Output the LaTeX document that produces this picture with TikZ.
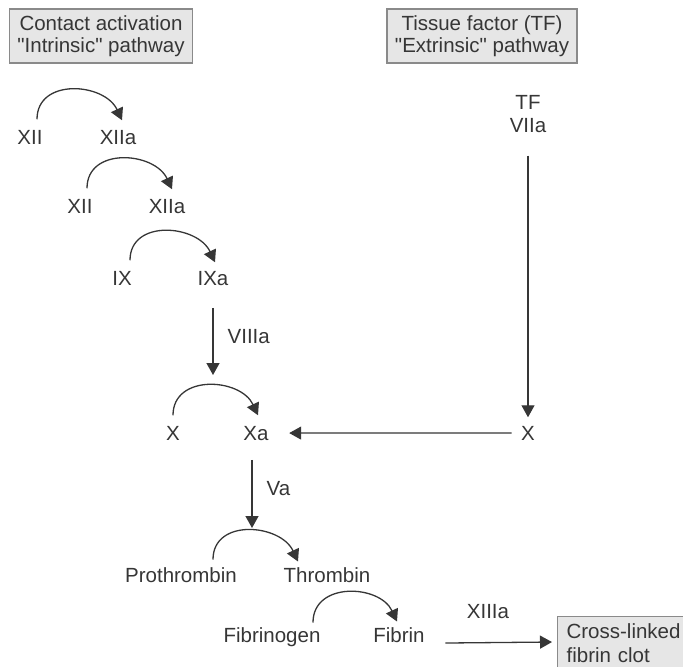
\documentclass[tikz,border=0pt]{standalone}
\usepackage{fontspec}
\setmainfont{Liberation Sans}[Ligatures=TeXOff]
\usetikzlibrary{arrows.meta, positioning}

\definecolor{ink}{HTML}{363636}
\definecolor{boxfill}{HTML}{E6E6E6}
\definecolor{boxline}{HTML}{8A8A8A}

\begin{document}
\begin{tikzpicture}[x=0.5pt, y=0.5pt, >={Triangle[length=6pt,width=6.5pt]},
                line width=0.65pt, color=ink,
                main node/.style={anchor=base, inner sep=0pt, font=\fontsize{10.25}{11}\selectfont},
                label node/.style={inner sep=0pt, font=\fontsize{10.25}{11}\selectfont},
                box node/.style={draw=boxline, fill=boxfill, line width=0.6pt, align=center,
                  inner xsep=4pt, inner ysep=3.2pt, font=\fontsize{10.25}{11}\selectfont},
                activate/.style={->, out=90, in=115, looseness=1.25}]

  \useasboundingbox (0,0) rectangle (683,-666);

  % the two pathways
  \node[box node] (intr) at (101,-36) {Contact activation\\"Intrinsic" pathway};
  \node[box node] (extr) at (482,-36) {Tissue factor (TF)\\"Extrinsic" pathway};

  \node[main node] (xii1) at (30,-144) {XII};
  \node[main node] (xiia1) at (118,-144) {XIIa};
  \node[main node] (xii2) at (80,-213) {XII};
  \node[main node] (xiia2) at (167,-213) {XIIa};
  \node[main node] (ix) at (122,-285) {IX};
  \node[main node] (ixa) at (213,-285) {IXa};
  \node[main node] (x) at (173,-440) {X};
  \node[main node] (xa) at (256,-440) {Xa};

  \node[main node, anchor=north, align=center, font=\fontsize{10.25}{11.5}\selectfont]
    (tf) at (528,-95) {TF\\VIIa};
  \node[main node] (xtf) at (528,-440) {X};

  % common pathway
  \node[main node] (pro) at (181,-582) {Prothrombin};
  \node[main node] (thr) at (327,-582) {Thrombin};
  \node[main node] (fbg) at (272,-642) {Fibrinogen};
  \node[main node] (fbn) at (399,-642) {Fibrin};
  \node[box node, anchor=north west, align=left, text width=70pt, inner xsep=4.5pt,
        inner ysep=3.5pt, font=\fontsize{10.25}{12}\selectfont]
    (clot) at (557,-616) {Cross-linked\\fibrin clot};

  \coordinate (xarc) at (213,-375);
  \coordinate (proarc) at (252,-528);
  \coordinate (clotin) at ([shift={(-5,0)}]clot.west);

  % activations
  \draw[activate] ([shift={(7,10)}]xii1.north) to ([shift={(4,9)}]xiia1.north);
  \draw[activate] ([shift={(7,10)}]xii2.north) to ([shift={(5,9)}]xiia2.north);
  \draw[activate] ([shift={(8,10)}]ix.north) to ([shift={(2,8)}]ixa.north);
  \draw[activate] ([shift={(0,10)}]x.north) to ([shift={(2,10)}]xa.north);
  \draw[activate] ([shift={(32,7)}]pro.north) to ([shift={(-29,5)}]thr.north);
  \draw[activate] ([shift={(41,4)}]fbg.north) to ([shift={(-2,5)}]fbn.north);

  \draw[->] ([shift={(0,-22)}]ixa.south) -- node[label node, right=7pt, pos=0.43] {VIIIa} (xarc);
  \draw[->] ([shift={(-4,-19)}]xa.south) -- node[label node, right=7pt, pos=0.42] {Va} (proarc);
  \draw[->] ([shift={(0,-22)}]tf.south) -- ([shift={(0,8)}]xtf.north);
  \draw[->] ([shift={(-9,0)}]xtf.west) -- ([shift={(20,0)}]xa.east);
  \draw[->] ([shift={(20,-1)}]fbn.base east) -- node[label node, above=11.5pt, pos=0.4] {XIIIa}
    (clotin |- fbn.base);
\end{tikzpicture}
\end{document}
